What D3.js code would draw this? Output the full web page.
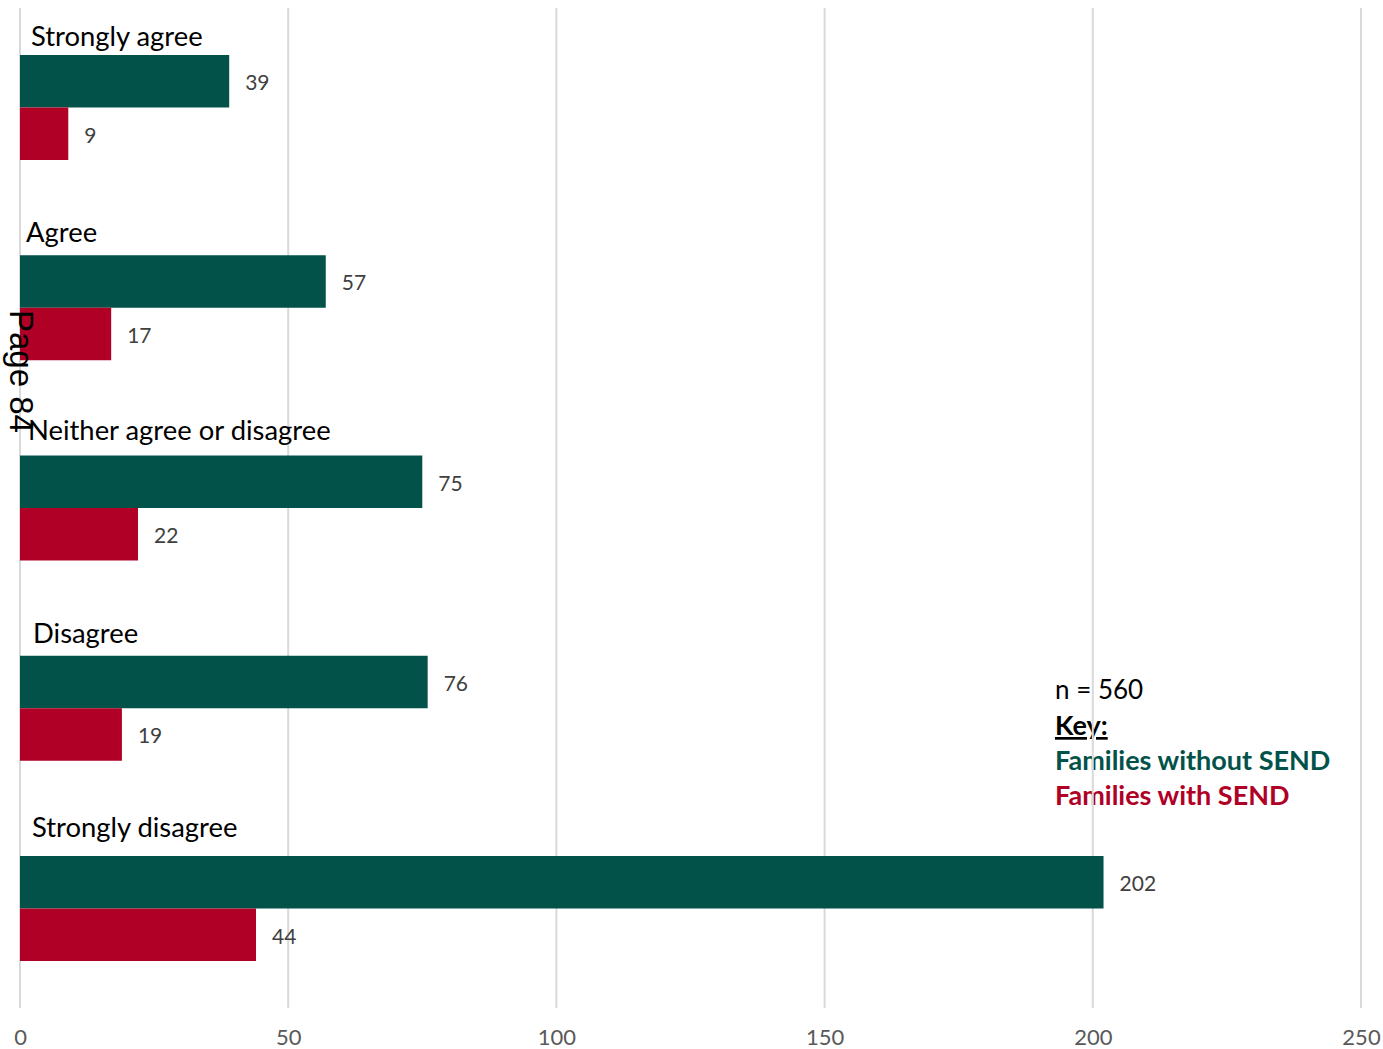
<!DOCTYPE html>
<html>
<head>
<meta charset="utf-8">
<script src="https://cdn.jsdelivr.net/npm/d3@7/dist/d3.min.js"></script>
<style>
  html, body { margin: 0; padding: 0; background: #ffffff; }
  svg { display: block; }
</style>
</head>
<body>
<svg id="chart" width="1383" height="1049"></svg>
<script>
// Survey responses by family group
const categories = ["Strongly agree", "Agree", "Neither agree or disagree", "Disagree", "Strongly disagree"];
const withoutSend = [39, 57, 75, 76, 202];
const withSend = [9, 17, 22, 19, 44];
const seriesNames = ["Families without SEND", "Families with SEND"];
const tickValues = [0, 50, 100, 150, 200, 250];
const sampleNote = "n = 560";

// Layout / style constants
const W = 1383, H = 1049;
const plot = { left: 20, right: 1361, top: 8, bottom: 1008 };
const colors = { without: "#02524A", with: "#B00026" };
const labelDx = [11, 6, 8, 13, 12];
const labelDy = [9, 13, 16, 13, 19];
const font = "Lato, 'Open Sans', sans-serif";

const svg = d3.select("#chart");

const x = d3.scaleLinear().domain([0, 250]).range([plot.left, plot.right]);
const y = d3.scaleBand().domain(categories)
  .range([plot.top, plot.bottom])
  .paddingInner(0.4757).paddingOuter(0.2347);
const ySub = d3.scaleBand().domain(["without", "with"]).range([0, y.bandwidth()]);

const rows = categories.map((c, i) => ({
  cat: c, i,
  vals: [{ key: "without", v: withoutSend[i] }, { key: "with", v: withSend[i] }]
}));

// Legend block
const legend = svg.append("g").attr("font-family", font).attr("font-size", 27);
legend.append("text").attr("x", 1055).attr("y", 699).attr("fill", "#000")
  .attr("font-size", 26).text(sampleNote);
legend.append("text").attr("x", 1055).attr("y", 735).attr("fill", "#000")
  .attr("font-weight", "bold").attr("text-decoration", "underline").text("Key:");
legend.append("text").attr("x", 1055).attr("y", 770).attr("fill", colors.without)
  .attr("font-weight", "bold").text(seriesNames[0]);
legend.append("text").attr("x", 1055).attr("y", 805).attr("fill", colors.with)
  .attr("font-weight", "bold").text(seriesNames[1]);

// Vertical gridlines
svg.append("g").selectAll("line").data(tickValues).join("line")
  .attr("x1", d => x(d)).attr("x2", d => x(d))
  .attr("y1", plot.top).attr("y2", plot.bottom)
  .attr("stroke", "#D9D9D9").attr("stroke-width", 2);

// Axis tick labels
const axis = d3.axisBottom(x).tickValues(tickValues).tickSize(0).tickPadding(0);
const axisG = svg.append("g").attr("transform", `translate(0, ${plot.bottom})`).call(axis);
axisG.select(".domain").remove();
axisG.selectAll("text")
  .attr("font-family", font).attr("font-size", 22).attr("fill", "#595959")
  .attr("dy", null).attr("y", 37);

// Bars
const groups = svg.append("g").selectAll("g").data(rows).join("g")
  .attr("transform", d => `translate(0, ${y(d.cat)})`);

groups.selectAll("rect").data(d => d.vals).join("rect")
  .attr("x", x(0))
  .attr("y", d => ySub(d.key))
  .attr("width", d => x(d.v) - x(0))
  .attr("height", ySub.bandwidth())
  .attr("fill", d => colors[d.key]);

// Value labels
groups.selectAll("text.val").data(d => d.vals).join("text")
  .attr("class", "val")
  .attr("x", d => x(d.v) + 16)
  .attr("y", d => ySub(d.key) + ySub.bandwidth() / 2)
  .attr("dy", "0.42em")
  .attr("font-family", font).attr("font-size", 21).attr("fill", "#404040")
  .text(d => d.v);

// Category labels above each pair of bars
svg.append("g").selectAll("text").data(rows).join("text")
  .attr("x", d => plot.left + labelDx[d.i])
  .attr("y", d => y(d.cat) - labelDy[d.i])
  .attr("font-family", font).attr("font-size", 27.4).attr("fill", "#000")
  .text(d => d.cat);

// Rotated page marker
svg.append("text")
  .attr("transform", "translate(10, 310) rotate(90)")
  .attr("font-family", "'Liberation Sans', Arial, sans-serif")
  .attr("font-size", 33).attr("fill", "#000")
  .text("Page 84");
</script>
</body>
</html>
